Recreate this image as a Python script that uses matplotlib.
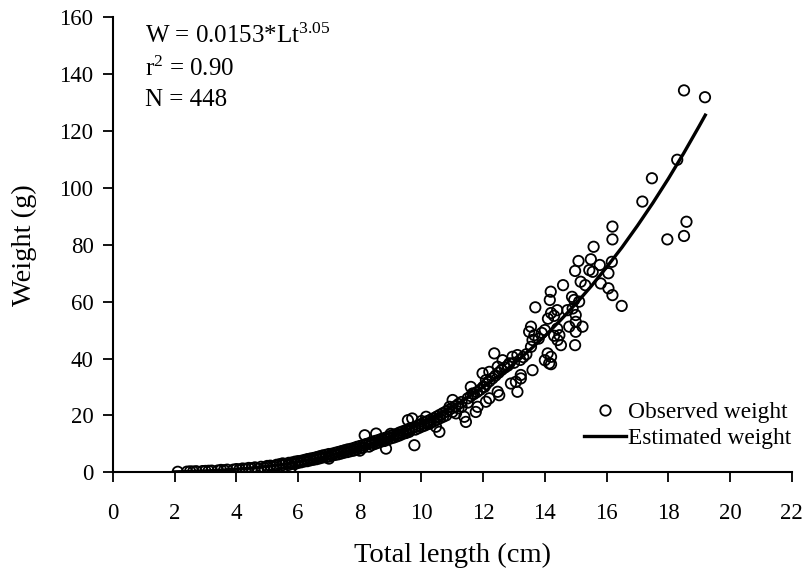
import matplotlib
matplotlib.use("Agg")
import matplotlib.pyplot as plt
from matplotlib.lines import Line2D

plt.rcParams['font.family'] = ['Liberation Serif', 'DejaVu Serif']
plt.rcParams['mathtext.fontset'] = 'custom'
plt.rcParams['mathtext.rm'] = 'Liberation Serif'
plt.rcParams['mathtext.it'] = 'Liberation Serif:italic'

# Observed (length cm, weight g)
obs_length = [
    2.1, 2.4, 2.5, 2.6, 2.7, 2.9, 3.0, 3.1, 3.2, 3.4, 3.5, 3.6, 3.7, 3.9, 4.0, 4.1, 4.2, 4.3, 4.4, 4.5,
    4.6, 4.7, 4.8, 4.9, 5.0, 5.0, 5.1, 5.2, 5.3, 5.3, 5.4, 5.5, 5.5, 5.6, 5.7, 5.7, 5.8, 5.8, 5.9, 5.9,
    6.0, 6.0, 5.78, 6.1, 6.1, 6.2, 6.2, 6.3, 6.3, 6.4, 6.4, 6.5, 6.5, 6.6, 6.6, 6.7, 6.7, 6.8, 6.8, 6.9,
    6.9, 7.0, 7.0, 7.0, 7.1, 7.1, 7.2, 7.2, 7.3, 7.3, 7.4, 7.4, 7.5, 7.5, 7.6, 7.6, 7.7, 7.7, 7.8, 7.8,
    7.9, 7.9, 8.0, 8.0, 8.0, 8.1, 8.1, 8.16, 8.2, 8.3, 8.3, 8.4, 8.4, 8.5, 8.5, 8.53, 8.6, 8.6, 8.7, 8.7,
    8.8, 8.8, 8.85, 8.9, 8.9, 9.0, 9.0, 9.0, 9.1, 9.1, 9.2, 9.2, 9.25, 9.3, 9.3, 9.4, 9.4, 9.5, 9.5, 9.56,
    9.6, 9.6, 9.61, 9.7, 9.7, 9.77, 9.8, 9.8, 9.9, 9.9, 10.0, 10.0, 10.0, 10.1, 10.1, 10.15, 10.2, 10.2, 10.26, 10.3,
    10.3, 10.4, 10.4, 10.47, 10.5, 10.5, 10.58, 10.6, 10.6, 10.7, 10.7, 10.8, 10.8, 10.9, 10.91, 11.0, 11.0, 11.01, 11.1, 11.12,
    11.2, 11.2, 11.3, 11.3, 11.39, 11.44, 11.5, 11.5, 11.6, 11.6, 11.66, 11.7, 11.76, 11.82, 11.8, 11.9, 11.98, 12.0, 12.04, 12.09,
    12.09, 12.1, 12.2, 12.2, 12.2, 12.3, 12.36, 12.4, 12.47, 12.47, 12.52, 12.5, 12.6, 12.63, 12.7, 12.8, 12.85, 12.9, 12.95, 13.0,
    13.06, 13.11, 13.11, 13.2, 13.22, 13.22, 13.3, 13.4, 13.49, 13.55, 13.55, 13.6, 13.6, 13.66, 13.69, 13.8, 13.9, 14.0, 14.0, 14.09,
    14.14, 14.2, 14.2, 14.16, 14.19, 14.1, 14.2, 14.3, 14.4, 14.3, 14.4, 14.41, 14.47, 14.52, 14.59, 14.73, 14.79, 14.88, 14.9, 14.95,
    14.98, 14.98, 15.0, 15.0, 15.0, 15.09, 15.11, 15.16, 15.22, 15.31, 15.44, 15.49, 15.55, 15.58, 15.78, 15.81, 16.06, 16.06, 16.17, 16.19,
    16.49, 16.19, 16.19, 17.16, 17.47, 17.97, 18.29, 18.51, 18.51, 18.59, 19.19,
]
obs_weight = [
    0.15, 0.2, 0.3, 0.25, 0.35, 0.4, 0.45, 0.5, 0.55, 0.6, 0.8, 0.7, 0.9, 0.9, 1.1, 1.0, 1.3, 1.2, 1.5, 1.4,
    1.7, 1.2, 1.9, 1.6, 2.2, 1.8, 2.3, 2.0, 2.6, 2.2, 2.8, 2.5, 3.1, 2.9, 3.3, 2.6, 3.4, 3.0, 3.7, 2.9,
    3.9, 3.3, 1.8, 4.0, 3.5, 4.3, 3.8, 4.6, 3.9, 4.8, 4.2, 5.0, 4.4, 5.3, 4.6, 5.6, 4.9, 5.9, 5.2, 6.1,
    5.3, 6.4, 5.5, 4.8, 6.5, 5.9, 6.8, 6.1, 7.1, 6.3, 7.4, 6.6, 7.7, 6.9, 8.0, 7.1, 8.2, 7.4, 8.5, 7.6,
    8.9, 8.0, 9.2, 8.4, 7.6, 9.5, 8.6, 13.0, 9.9, 10.2, 9.0, 10.6, 9.6, 11.0, 10.0, 13.6, 11.3, 10.4, 11.7, 10.8,
    12.0, 11.0, 8.3, 12.4, 11.5, 12.8, 11.9, 13.5, 13.2, 12.2, 13.5, 12.6, 13.0, 14.0, 13.0, 14.4, 13.5, 14.8, 13.8, 18.3,
    15.3, 14.2, 14.8, 18.9, 15.6, 9.5, 16.0, 15.0, 16.5, 15.5, 17.0, 16.0, 18.0, 17.5, 16.4, 19.5, 18.0, 16.9, 17.1, 18.5,
    17.4, 19.0, 17.9, 16.0, 19.6, 18.4, 14.2, 20.2, 19.0, 20.8, 19.5, 21.4, 20.0, 22.0, 23.0, 22.6, 21.2, 25.4, 23.2, 20.7,
    24.0, 22.5, 24.7, 23.0, 19.5, 17.7, 26.0, 24.5, 30.0, 26.8, 27.7, 27.5, 21.2, 23.0, 28.2, 29.0, 34.8, 30.0, 30.0, 32.4,
    24.8, 31.0, 26.0, 35.3, 32.0, 33.0, 41.8, 34.0, 28.3, 37.1, 27.1, 35.0, 36.0, 39.4, 36.8, 37.5, 38.3, 31.2, 40.6, 38.5,
    31.8, 41.2, 28.3, 39.5, 33.0, 34.2, 40.5, 41.5, 49.4, 51.2, 44.1, 46.5, 35.9, 48.2, 58.0, 47.0, 49.0, 50.0, 39.4, 41.8,
    38.3, 40.6, 38.0, 60.6, 63.5, 54.0, 56.0, 55.0, 57.0, 48.0, 50.5, 46.5, 48.2, 44.7, 65.8, 57.0, 51.2, 61.7, 57.6, 60.6,
    70.8, 44.7, 55.3, 52.9, 49.4, 74.3, 60.0, 67.0, 51.2, 65.8, 71.1, 74.9, 70.5, 79.3, 72.9, 66.4, 70.0, 64.7, 74.0, 62.3,
    58.5, 86.4, 81.9, 95.2, 103.4, 81.9, 109.9, 134.3, 83.1, 88.1, 131.9,
]

# Estimated weight curve
est_length = [2.0, 2.5, 3.0, 3.5, 4.0, 4.5, 5.0, 5.5, 6.0, 6.5, 7.0, 7.5, 8.0, 8.5, 9.0, 9.5, 10.0, 10.5,
              11.0, 11.5, 12.0, 12.5, 13.0, 13.5, 14.0, 14.5, 15.0, 15.5, 16.0, 16.5, 17.0, 17.5, 18.0, 18.5,
              19.0, 19.2]
est_weight = [0.13, 0.25, 0.44, 0.70, 1.05, 1.50, 2.07, 2.77, 3.62, 4.61, 5.78, 7.14, 8.69, 10.45, 12.45, 14.67,
              17.2, 19.9, 23.0, 26.3, 30.0, 33.9, 38.2, 42.9, 47.9, 53.4, 59.2, 65.4, 72.1, 79.1, 86.7, 94.7,
              103.2, 112.2, 121.7, 125.6]

x_ticks = list(range(0, 23, 2))
y_ticks = list(range(0, 161, 20))

fig = plt.figure(figsize=(8.07, 5.78), dpi=100)
ax = fig.add_axes([0.140, 0.183, 0.841, 0.787])

ax.scatter(obs_length, obs_weight, s=56, facecolors='none', edgecolors='black', linewidths=1.3, zorder=2)
ax.plot(est_length, est_weight, color='black', lw=2.4, zorder=3)

ax.set_xlim(0, 22)
ax.set_ylim(0, 160)
ax.set_xticks(x_ticks)
ax.set_yticks(y_ticks)
ax.tick_params(direction='out', length=7, width=1.3, labelsize=16.5, pad=7, colors='black')
ax.tick_params(axis='x', pad=15)
for s in ['top', 'right']:
    ax.spines[s].set_visible(False)
for s in ['left', 'bottom']:
    ax.spines[s].set_linewidth(1.5)

ax.set_xlabel('Total length (cm)', fontsize=20.5, labelpad=14)
ax.set_ylabel('Weight (g)', fontsize=20.5, labelpad=16)

ax.text(0.047, 0.960, 'W = 0.0153*Lt$^{3.05}$', transform=ax.transAxes, fontsize=18, va='center', ha='left')
ax.text(0.047, 0.886, 'r$^{2}$ = 0.90', transform=ax.transAxes, fontsize=18, va='center', ha='left')
ax.text(0.047, 0.818, 'N = 448', transform=ax.transAxes, fontsize=18, va='center', ha='left')

handles = [Line2D([], [], ls='none', marker='o', ms=7.5, mfc='none', mec='black', mew=1.3),
           Line2D([], [], color='black', lw=2.4)]
ax.legend(handles, ['Observed weight', 'Estimated weight'], loc='lower right', frameon=False,
          fontsize=16.8, handlelength=1.8, handletextpad=0.12, labelspacing=0.22,
          borderpad=0, borderaxespad=0, bbox_to_anchor=(1.0, 0.05))

fig.savefig('out.png', dpi=100)
